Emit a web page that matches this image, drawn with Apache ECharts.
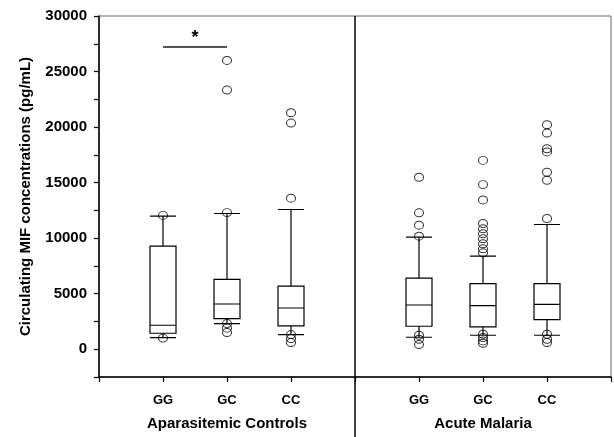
<!DOCTYPE html>
<html>
<head>
<meta charset="UTF-8">
<title>MIF concentrations</title>
<script src="https://cdn.jsdelivr.net/npm/echarts@6/dist/echarts.min.js"></script>
<style>
    body { margin: 0; background: #fff; }
    #main { width: 614px; height: 437px; }
</style>
</head>
<body>
<div id="main"></div>
<script>
// x positions 0..8, gaps at 0, 4 and 8
var categories = ['', 'GG', 'GC', 'CC', '', 'GG', 'GC', 'CC', ''];
var groupNames = ['Aparasitemic Controls', 'Acute Malaria'];
var groupAt = [2, 6];
var boxPos = [1, 2, 3, 5, 6, 7];
// min, Q1, median, Q3, max
var boxStats = [
    [1050, 1440, 2160, 9280, 11980],
    [2300, 2750, 4070, 6290, 12220],
    [1320, 2100, 3710, 5690, 12580],
    [1080, 2070, 3980, 6410, 10090],
    [1260, 2010, 3920, 5900, 8380],
    [1260, 2670, 4040, 5900, 11230]
];
var outliers = [
    [12050, 1000],
    [26000, 23330, 12300, 2310, 1900, 1500],
    [21290, 20360, 13600, 1320, 960, 600],
    [15480, 12280, 11170, 10180, 1260, 900, 420],
    [17000, 14820, 13440, 11320, 10840, 10390, 9940, 9490, 9040, 8680, 1350, 1050, 750, 540],
    [20210, 19460, 18050, 17760, 15930, 15210, 11770, 1350, 900, 600]
];
var sigPair = [1, 2];
var sigLevel = 27250;

var font = 'Liberation Sans';

var boxData = boxStats.map(function (s, i) {
    return [boxPos[i]].concat(s);
});
var outlierData = [];
outliers.forEach(function (list, i) {
    list.forEach(function (v) { outlierData.push([boxPos[i], v]); });
});

var chart = echarts.init(document.getElementById('main'));
chart.setOption({
    backgroundColor: '#fff',
    animation: false,
    grid: {
        left: 99, right: 2, top: 16, bottom: 59,
        show: true, borderColor: '#666', borderWidth: 1
    },
    xAxis: {
        type: 'value',
        min: 0, max: 8, interval: 1,
        splitLine: { show: false },
        axisLine: { show: true, onZero: false, lineStyle: { color: '#000', width: 1.5 } },
        axisTick: { show: true, length: 5, lineStyle: { color: '#000', width: 1.2 } },
        axisLabel: {
            margin: 12,
            color: '#000',
            fontFamily: font,
            fontWeight: 'bold',
            fontSize: 13,
            lineHeight: 22,
            formatter: function (v) {
                var name = categories[v] || '';
                var g = groupAt.indexOf(v);
                if (g >= 0) name += '\n{g|' + groupNames[g] + '}';
                return name;
            },
            rich: {
                g: { fontFamily: font, fontWeight: 'bold', fontSize: 15, lineHeight: 26, color: '#000' }
            }
        }
    },
    yAxis: {
        type: 'value',
        min: -2500, max: 30000, interval: 2500,
        name: 'Circulating MIF concentrations (pg/mL)',
        nameLocation: 'middle',
        nameGap: 66,
        nameTextStyle: { color: '#000', fontFamily: font, fontWeight: 'bold', fontSize: 15 },
        splitLine: { show: false },
        axisLine: { show: true, onZero: false, lineStyle: { color: '#000', width: 1.5 } },
        axisTick: { show: true, length: 5, lineStyle: { color: '#000', width: 1.2 } },
        axisLabel: {
            margin: 12,
            color: '#000',
            fontFamily: font,
            fontWeight: 'bold',
            fontSize: 15,
            formatter: function (v) {
                return (v >= 0 && v % 5000 === 0) ? String(v) : '';
            }
        }
    },
    series: [
        {
            type: 'boxplot',
            data: boxData,
            boxWidth: [26, 26],
            itemStyle: { color: 'rgba(0,0,0,0)', borderColor: '#000', borderWidth: 1.2 },
            markLine: {
                silent: true,
                symbol: 'none',
                data: [
                    {
                        xAxis: 4,
                        lineStyle: { color: '#000', width: 1.5, type: 'solid' },
                        label: { show: false }
                    },
                    [
                        {
                            coord: [sigPair[0], sigLevel],
                            lineStyle: { color: '#555', width: 2, type: 'solid' },
                            label: {
                                show: true, position: 'middle', formatter: '*',
                                color: '#000', fontFamily: font, fontWeight: 'bold', fontSize: 18,
                                distance: 0
                            }
                        },
                        { coord: [sigPair[1], sigLevel] }
                    ]
                ]
            }
        },
        {
            type: 'scatter',
            data: outlierData,
            symbol: 'circle',
            symbolSize: [9, 8],
            itemStyle: { color: 'rgba(0,0,0,0)', borderColor: '#000', borderWidth: 1 }
        }
    ]
});

// divider continues below the axis
var p0 = chart.convertToPixel({ gridIndex: 0 }, [4, -2500]);
chart.setOption({
    graphic: [{
        type: 'line',
        shape: { x1: p0[0], y1: p0[1], x2: p0[0], y2: 437 },
        style: { stroke: '#000', lineWidth: 1.5 }
    }]
});
</script>
</body>
</html>
